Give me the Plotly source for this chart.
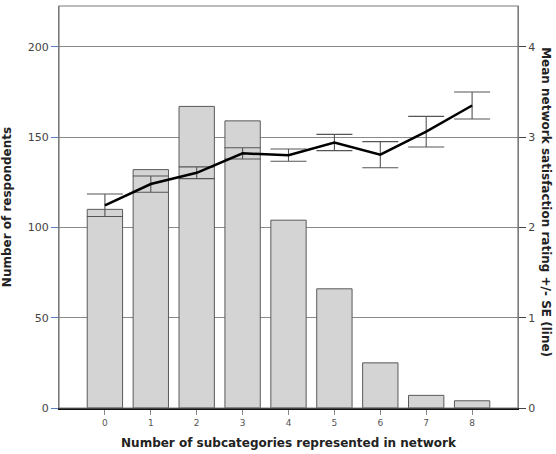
import plotly.graph_objects as go

# Number of subcategories represented in each respondent's network
subcategories = [0, 1, 2, 3, 4, 5, 6, 7, 8]
tick_labels = ["0", "1", "2", "3", "4", "5", "6", "7", "8"]

# Respondent counts (bars, left axis)
respondents = [110, 132, 167, 159, 104, 66, 25, 7, 4]

# Mean network satisfaction rating and its standard error (line, right axis)
mean_satisfaction = [2.245, 2.48, 2.605, 2.82, 2.80, 2.94, 2.805, 3.06, 3.35]
satisfaction_se = [0.125, 0.09, 0.065, 0.063, 0.068, 0.09, 0.145, 0.17, 0.15]

LEFT_MAX = 222.6
RIGHT_MAX = LEFT_MAX / 50.0

FONT = "DejaVu Sans"

fig = go.Figure()

fig.add_trace(go.Bar(
    x=subcategories,
    y=respondents,
    width=0.77,
    marker=dict(color="#d4d4d4", line=dict(color="#5a5a5a", width=1)),
    showlegend=False,
    hoverinfo="x+y",
))

fig.add_trace(go.Scatter(
    x=subcategories,
    y=mean_satisfaction,
    yaxis="y2",
    mode="lines",
    line=dict(color="#000000", width=2.5),
    error_y=dict(type="data", array=satisfaction_se, visible=True,
                 color="#555555", thickness=1.1, width=18),
    showlegend=False,
))

# Frame around the plotting area
fig.add_shape(type="rect", xref="paper", yref="paper", x0=0, x1=1, y0=0, y1=1,
              line=dict(color="#7a7a7a", width=1.2), layer="above")

# Right-axis title, reading top to bottom
fig.add_annotation(
    text="<b>Mean network satisfaction rating +/- SE (line)</b>",
    xref="paper", yref="paper", x=1, y=0.512,
    xanchor="center", yanchor="middle", xshift=28,
    textangle=90, showarrow=False,
    font=dict(size=12, color="#222222", family=FONT),
)

fig.update_layout(
    width=556, height=454,
    margin=dict(l=59, r=38, t=6, b=46),
    paper_bgcolor="white",
    plot_bgcolor="white",
    font=dict(family=FONT, color="#333333"),
    xaxis=dict(
        range=[-1, 9],
        tickmode="array",
        tickvals=subcategories,
        ticktext=tick_labels,
        ticks="outside", ticklen=5, tickcolor="#888888", tickwidth=1,
        tickfont=dict(size=9, color="#555555"),
        showgrid=False, zeroline=False,
        showline=True, linecolor="#111111", linewidth=1.5,
        title=dict(text="<b>Number of subcategories represented in network</b>",
                   font=dict(size=12, color="#222222"), standoff=12),
    ),
    yaxis=dict(
        range=[0, LEFT_MAX],
        tickvals=[0, 50, 100, 150, 200],
        ticks="outside", ticklen=7, tickcolor="#5b7fc4", tickwidth=1,
        tickfont=dict(size=11, color="#444444"),
        showgrid=True, gridcolor="#8a8a8a", gridwidth=1,
        zeroline=False,
        showline=True, linecolor="#7a7a7a", linewidth=1.2,
        title=dict(text="<b>Number of respondents</b>",
                   font=dict(size=12, color="#222222"), standoff=14),
    ),
    yaxis2=dict(
        range=[0, RIGHT_MAX],
        overlaying="y", side="right",
        tickvals=[0, 1, 2, 3, 4],
        ticks="outside", ticklen=7, tickcolor="#444444", tickwidth=1,
        tickfont=dict(size=11, color="#444444"),
        showgrid=False, zeroline=False,
        showline=True, linecolor="#7a7a7a", linewidth=1.2,
    ),
)

fig.write_html("out.html")
